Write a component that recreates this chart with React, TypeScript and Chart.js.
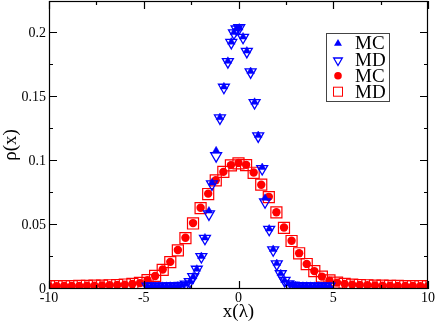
import React, { useEffect, useRef } from "react";
import { Chart, registerables } from "chart.js";

Chart.register(...registerables);

// ---- data ----
const blueX = [
  -4.8, -4.6, -4.4, -4.2, -4.0, -3.8, -3.6, -3.4, -3.2, -3.0, -2.78, -2.57, -2.39, -2.2, -1.96, -1.77,
  -1.56, -1.4, -1.18, -0.98, -0.77, -0.56, -0.38, -0.24, -0.1, 0.04, 0.24, 0.44, 0.64, 0.85, 1.04, 1.25,
  1.4, 1.62, 1.83, 2.02, 2.23, 2.43, 2.63, 2.83, 3.0, 3.2, 3.4, 3.6, 3.8, 4.0, 4.2, 4.4, 4.6, 4.8,
];
const blueMC = [
  0.0021, 0.0021, 0.0021, 0.0022, 0.0022, 0.0022, 0.0023, 0.0023, 0.0024, 0.0028, 0.0038, 0.0058, 0.0097, 0.0156, 0.0255, 0.0400,
  0.0610, 0.0830, 0.1080, 0.1340, 0.1580, 0.1780, 0.1930, 0.2005, 0.2035, 0.2040, 0.1970, 0.1860, 0.1700, 0.1460, 0.1200, 0.0950,
  0.0710, 0.0470, 0.0310, 0.0200, 0.0120, 0.0068, 0.0040, 0.0030, 0.0026, 0.0024, 0.0023, 0.0023, 0.0022, 0.0022, 0.0022, 0.0021, 0.0021, 0.0021,
];
const blueMD = [
  0.0021, 0.0021, 0.0021, 0.0022, 0.0022, 0.0022, 0.0023, 0.0023, 0.0024, 0.0027, 0.0037, 0.0056, 0.0095, 0.0153, 0.0252, 0.0395,
  0.0585, 0.0820, 0.1040, 0.1335, 0.1575, 0.1775, 0.1925, 0.2000, 0.2030, 0.2040, 0.1965, 0.1855, 0.1695, 0.1455, 0.1195, 0.0940,
  0.0680, 0.0465, 0.0305, 0.0195, 0.0118, 0.0066, 0.0039, 0.0029, 0.0025, 0.0024, 0.0023, 0.0023, 0.0022, 0.0022, 0.0022, 0.0021, 0.0021, 0.0021,
];
const redX = [
  -10, -9.6, -9.2, -8.8, -8.4, -8, -7.6, -7.2, -6.8, -6.4, -6, -5.6, -5.2, -4.8, -4.4, -4, -3.6, -3.2, -2.8, -2.4,
  -2, -1.6, -1.2, -0.8, -0.4, 0, 0.4, 0.8, 1.2, 1.6, 2, 2.4, 2.8, 3.2, 3.6, 4, 4.4, 4.8, 5.2, 5.6,
  6, 6.4, 6.8, 7.2, 7.6, 8, 8.4, 8.8, 9.2, 9.6, 10,
];
const redMC = [
  0.0022, 0.0022, 0.0023, 0.0023, 0.0024, 0.0025, 0.0026, 0.0027, 0.0029, 0.0031, 0.0034, 0.0039, 0.0046, 0.0068, 0.0101, 0.0152, 0.0212, 0.0305, 0.0400, 0.0515,
  0.0635, 0.0745, 0.0850, 0.0915, 0.0968, 0.0985, 0.0970, 0.0910, 0.0815, 0.0720, 0.0600, 0.0480, 0.0377, 0.0280, 0.0196, 0.0140, 0.0097, 0.0066, 0.0050, 0.0040,
  0.0034, 0.0031, 0.0029, 0.0027, 0.0026, 0.0025, 0.0024, 0.0023, 0.0023, 0.0022, 0.0022,
];
const redMD = [
  0.0022, 0.0022, 0.0023, 0.0023, 0.0024, 0.0025, 0.0026, 0.0027, 0.0029, 0.0031, 0.0035, 0.0040, 0.0047, 0.0069, 0.0102, 0.0150, 0.0210, 0.0302, 0.0398, 0.0512,
  0.0632, 0.0742, 0.0848, 0.0915, 0.0966, 0.0982, 0.0968, 0.0908, 0.0815, 0.0718, 0.0598, 0.0478, 0.0375, 0.0279, 0.0195, 0.0140, 0.0097, 0.0067, 0.0050, 0.0040,
  0.0034, 0.0031, 0.0029, 0.0027, 0.0026, 0.0025, 0.0024, 0.0023, 0.0023, 0.0022, 0.0022,
];

const xTicks = [-10, -5, 0, 5, 10];
const xTickLabels = ["-10", "-5", "0", "5", "10"];
const xMinorTicks = [-7.5, -2.5, 2.5, 7.5];
const yTicks = [0, 0.05, 0.1, 0.15, 0.2];
const yTickLabels = ["0", "0.05", "0.1", "0.15", "0.2"];
const yMinorTicks = [0.025, 0.075, 0.125, 0.175];
const seriesLabels = ["MC", "MD", "MC", "MD"];
const xTitle = "x(λ)";
const yTitle = "ρ(x)";

const FONT = "'Liberation Serif', 'Times New Roman', serif";
const BLUE = "#0000ff";
const RED = "#ff0000";

function drawMarker(ctx: CanvasRenderingContext2D, kind: number, x: number, y: number) {
  ctx.save();
  ctx.lineWidth = 1;
  if (kind === 0) {
    const r = 4.6;
    ctx.fillStyle = BLUE;
    ctx.beginPath();
    ctx.moveTo(x, y - r);
    ctx.lineTo(x + r * 0.866, y + r * 0.5);
    ctx.lineTo(x - r * 0.866, y + r * 0.5);
    ctx.closePath();
    ctx.fill();
  } else if (kind === 1) {
    const r = 5;
    ctx.strokeStyle = BLUE;
    ctx.lineWidth = 1.3;
    ctx.beginPath();
    ctx.moveTo(x, y + r);
    ctx.lineTo(x + r * 0.866, y - r * 0.5);
    ctx.lineTo(x - r * 0.866, y - r * 0.5);
    ctx.closePath();
    ctx.stroke();
  } else if (kind === 2) {
    ctx.fillStyle = RED;
    ctx.beginPath();
    ctx.arc(x, y, 3.8, 0, Math.PI * 2);
    ctx.fill();
  } else {
    ctx.strokeStyle = RED;
    ctx.strokeRect(x - 4.5, y - 4.5, 9, 9);
  }
  ctx.restore();
}

const framePlugin = {
  id: "frame",
  afterDatasetsDraw(chart: any) {
    const { ctx, chartArea: a, scales } = chart;
    const xs = scales.x;
    const ys = scales.y;
    ctx.save();
    ctx.strokeStyle = "#000";
    ctx.lineWidth = 1.2;
    ctx.beginPath();
    const xt = (v: number, len: number) => {
      const p = Math.round(xs.getPixelForValue(v)) + 0.5;
      ctx.moveTo(p, a.bottom);
      ctx.lineTo(p, a.bottom - len);
      ctx.moveTo(p, a.top);
      ctx.lineTo(p, a.top + len);
    };
    const yt = (v: number, len: number) => {
      const p = Math.round(ys.getPixelForValue(v)) - 0.5;
      ctx.moveTo(a.left, p);
      ctx.lineTo(a.left + len, p);
      ctx.moveTo(a.right, p);
      ctx.lineTo(a.right - len, p);
    };
    xTicks.forEach((v) => xt(v, 8));
    xMinorTicks.forEach((v) => xt(v, 4));
    yTicks.forEach((v) => yt(v, 8));
    yMinorTicks.forEach((v) => yt(v, 4));
    ctx.stroke();
    ctx.strokeRect(a.left + 0.5, a.top + 0.5, a.width - 1, a.height - 1);

    // legend box
    const bx = 326.5, by = 33.5, bw = 63, bh = 68;
    ctx.fillStyle = "#fff";
    ctx.fillRect(bx, by, bw, bh);
    ctx.strokeStyle = "#444";
    ctx.lineWidth = 1;
    ctx.strokeRect(bx, by, bw, bh);
    const rows = [42.7, 59.7, 75.7, 91.7];
    const markerRows = [43.5, 60.5, 75.7, 91.7];
    ctx.fillStyle = "#000";
    ctx.font = `19px ${FONT}`;
    ctx.textAlign = "left";
    ctx.textBaseline = "middle";
    seriesLabels.forEach((lab, i) => {
      drawMarker(ctx, i, 338, markerRows[i]);
      ctx.fillStyle = "#000";
      ctx.fillText(lab, 355, rows[i] + 1);
    });
    ctx.restore();
  },
};

export default function App() {
  const ref = useRef<HTMLCanvasElement>(null);
  useEffect(() => {
    const canvas = ref.current;
    if (!canvas) return;
    const chart = new Chart(canvas, {
      type: "scatter",
      data: {
        datasets: [
          {
            label: seriesLabels[0],
            data: blueX.map((x, i) => ({ x, y: blueMC[i] })),
            pointStyle: "triangle",
            pointRadius: 4.4,
            backgroundColor: BLUE,
            borderColor: BLUE,
            borderWidth: 0.5,
          },
          {
            label: seriesLabels[1],
            data: blueX.map((x, i) => ({ x, y: blueMD[i] })),
            pointStyle: "triangle",
            rotation: 180,
            pointRadius: 6.3,
            backgroundColor: "rgba(0,0,0,0)",
            borderColor: BLUE,
            borderWidth: 1.3,
          },
          {
            label: seriesLabels[2],
            data: redX.map((x, i) => ({ x, y: redMC[i] })),
            pointStyle: "circle",
            pointRadius: 4.2,
            backgroundColor: RED,
            borderColor: RED,
            borderWidth: 0,
          },
          {
            label: seriesLabels[3],
            data: redX.map((x, i) => ({ x, y: redMD[i] })),
            pointStyle: "rect",
            pointRadius: 7.8,
            backgroundColor: "rgba(0,0,0,0)",
            borderColor: RED,
            borderWidth: 1.2,
          },
        ],
      },
      options: {
        animation: false,
        responsive: false,
        devicePixelRatio: 1,
        layout: { autoPadding: false, padding: { left: 0, right: 8, top: 1, bottom: 0 } },
        plugins: { legend: { display: false }, tooltip: { enabled: false } },
        scales: {
          x: {
            type: "linear",
            min: -10,
            max: 10,
            afterBuildTicks: (s: any) => {
              s.ticks = xTicks.map((v) => ({ value: v }));
            },
            afterFit: (s: any) => {
              s.height = 35;
              s.paddingLeft = 0;
              s.paddingRight = 0;
            },
            grid: { display: false, drawTicks: false },
            border: { display: false },
            ticks: {
              padding: 1,
              color: "#000",
              maxRotation: 0,
              autoSkip: false,
              font: { family: FONT, size: 14 },
              callback: (v: any) => xTickLabels[xTicks.indexOf(Number(v))] ?? "",
            },
            title: {
              display: true,
              text: xTitle,
              color: "#000",
              font: { family: FONT, size: 19 },
              padding: { top: 0, bottom: 1 },
            },
          },
          y: {
            type: "linear",
            min: 0,
            max: 0.225,
            afterBuildTicks: (s: any) => {
              s.ticks = yTicks.map((v) => ({ value: v }));
            },
            afterFit: (s: any) => {
              s.width = 49;
              s.paddingTop = 0;
              s.paddingBottom = 0;
            },
            grid: { display: false, drawTicks: false },
            border: { display: false },
            ticks: {
              padding: 3,
              color: "#000",
              autoSkip: false,
              font: { family: FONT, size: 14 },
              callback: (v: any) => yTickLabels[yTicks.indexOf(Number(v))] ?? "",
            },
            title: {
              display: true,
              text: yTitle,
              color: "#000",
              font: { family: FONT, size: 19 },
              padding: { top: 0, bottom: 0 },
            },
          },
        },
      },
      plugins: [framePlugin],
    });
    return () => chart.destroy();
  }, []);

  return (
    <div style={{ position: "fixed", left: 0, top: 0, width: 436, height: 324, background: "#fff" }}>
      <canvas ref={ref} width={436} height={324} style={{ width: 436, height: 324, display: "block" }} />
    </div>
  );
}
